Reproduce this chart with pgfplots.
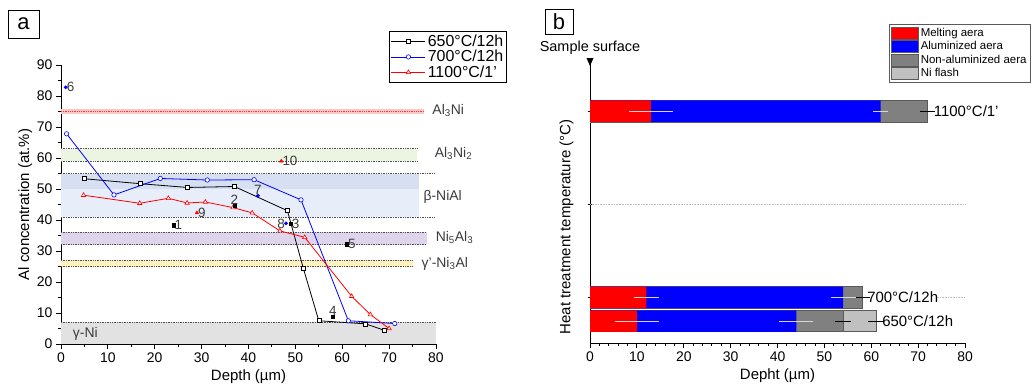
\documentclass[border=0pt]{standalone}
\usepackage{fontspec}
\setmainfont{Liberation Sans}
\usepackage{pgfplots}
\pgfplotsset{compat=1.18}
\definecolor{bandpink}{RGB}{246,200,200}
\definecolor{bandgreen}{RGB}{236,245,226}
\definecolor{bandblueA}{RGB}{214,224,242}
\definecolor{bandblueB}{RGB}{231,237,249}
\definecolor{bandpurple}{RGB}{222,213,237}
\definecolor{bandyellow}{RGB}{254,241,192}
\definecolor{bandgrey}{RGB}{226,226,226}
\definecolor{dotgrey}{RGB}{80,80,80}
\definecolor{labgrey}{RGB}{60,60,60}
\definecolor{nonal}{RGB}{128,128,128}
\definecolor{niflash}{RGB}{192,192,192}
\definecolor{barline}{RGB}{90,90,90}
\definecolor{errlight}{RGB}{215,215,215}
\begin{document}
\begin{tikzpicture}
\useasboundingbox (0,0) rectangle (1034bp,-391bp);
% panel labels
\node[draw, line width=0.9pt, minimum width=31bp, minimum height=28bp, inner sep=0pt, font=\fontsize{22}{22}\selectfont] at (23.5bp,-24bp) {a};
\node[draw, line width=0.9pt, minimum width=28bp, minimum height=25bp, inner sep=0pt, font=\fontsize{22}{22}\selectfont] at (559bp,-21.5bp) {b};
\node[font=\fontsize{14.5}{14.5}\selectfont] at (590bp,-48bp) {Sample surface};

% ---------------- panel a ----------------
\begin{axis}[
  at={(61bp,-344bp)}, anchor=south west, scale only axis,
  width=375bp, height=279bp,
  xmin=0, xmax=80, ymin=0, ymax=90,
  axis x line*=bottom, axis y line*=left,
  axis line style={line width=1pt},
  xtick={0,10,...,80}, ytick={0,10,...,90},
  minor xtick={5,15,...,75}, minor ytick={5,15,...,85},
  tick align=outside, major tick length=5bp, minor tick length=3bp,
  tick style={black, line width=0.9pt},
  /pgf/number format/assume math mode=true,
  tick label style={font=\fontsize{14}{14}\selectfont},
  label style={font=\fontsize{15}{15}\selectfont},
  xlabel={Depth (µm)}, ylabel={Al concentration (at.\%)},
  ylabel style={yshift=-2bp},
  clip=false,
  legend style={at={(0.875,1.122)}, anchor=north west, draw=black, line width=0.8pt,
    font=\fontsize{16}{17}\selectfont, inner sep=1.5pt, row sep=-1.5pt,
    legend cell align=left},
  legend image code/.code={\draw[mark repeat=2,mark phase=2,#1] plot coordinates {(0bp,0bp) (17bp,0bp) (34bp,0bp)};},
]
% bands
\addplot[fill=bandgrey, draw=none, forget plot] coordinates {(0,0) (80,0) (80,7) (0,7)} -- cycle;
\addplot[fill=bandyellow, draw=none, forget plot] coordinates {(0,25) (75,25) (75,27) (0,27)} -- cycle;
\addplot[fill=bandpurple, draw=none, forget plot] coordinates {(0,32) (78,32) (78,36) (0,36)} -- cycle;
\addplot[fill=bandblueB, draw=none, forget plot] coordinates {(0,41) (76.3,41) (76.3,50) (0,50)} -- cycle;
\addplot[fill=bandblueA, draw=none, forget plot] coordinates {(0,50) (76.3,50) (76.3,55) (0,55)} -- cycle;
\addplot[fill=bandgreen, draw=none, forget plot] coordinates {(0,59) (76,59) (76,63) (0,63)} -- cycle;
\addplot[fill=bandpink, draw=none, forget plot] coordinates {(0,74.3) (77.4,74.3) (77.4,75.7) (0,75.7)} -- cycle;
% dotted boundaries
\addplot[dotgrey, densely dotted, line width=0.7pt, forget plot] coordinates {(0,7) (80,7)};
\addplot[dotgrey, densely dotted, line width=0.7pt, forget plot] coordinates {(0,25) (75,25)};
\addplot[dotgrey, densely dotted, line width=0.7pt, forget plot] coordinates {(0,27) (75,27)};
\addplot[dotgrey, densely dotted, line width=0.7pt, forget plot] coordinates {(0,32) (78,32)};
\addplot[dotgrey, densely dotted, line width=0.7pt, forget plot] coordinates {(0,36) (78,36)};
\addplot[dotgrey, densely dotted, line width=0.7pt, forget plot] coordinates {(0,41) (79.7,41)};
\addplot[dotgrey, densely dotted, line width=0.7pt, forget plot] coordinates {(0,55) (79.7,55)};
\addplot[dotgrey, densely dotted, line width=0.7pt, forget plot] coordinates {(0,59) (76,59)};
\addplot[dotgrey, densely dotted, line width=0.7pt, forget plot] coordinates {(0,63) (76,63)};
\addplot[red!80, densely dotted, line width=0.8pt, forget plot] coordinates {(0,75) (77.4,75)};
% series
\addplot[black, line width=0.8pt, mark=square*, mark size=2bp, mark options={solid, fill=white, draw=black, line width=0.6pt}] coordinates {
 (5,53.3) (17,51.7) (27,50.5) (37,50.8) (48.3,43) (51.7,24.4) (55,7.5) (65,6.5) (69,4.4)};
\addlegendentry{650°C/12h}
\addplot[blue, line width=0.8pt, mark=*, mark size=2.2bp, mark options={solid, fill=white, draw=blue, line width=0.6pt}] coordinates {
 (1.2,67.8) (11.3,48.1) (21.2,53.4) (31.2,52.9) (41.2,53) (51.2,46.5) (61.3,7.5) (71.2,6.6)};
\addlegendentry{700°C/12h}
\addplot[red, line width=0.8pt, mark=triangle*, mark size=2.5bp, mark options={solid, fill=white, draw=red, line width=0.6pt}] coordinates {
 (4.8,48) (16.8,45.4) (22.9,47) (26.9,45.5) (30.8,45.8) (36.7,44) (40.8,42.3) (46.7,36.5) (52,34.4) (62,15.4) (66,9.5) (70,5)};
\addlegendentry{1100°C/1'}
% labelled spot analyses
\addplot[only marks, black, mark=square*, mark size=1.6bp, forget plot, point meta=explicit symbolic,
  nodes near coords, every node near coord/.append style={anchor=west, labgrey, inner sep=1pt, font=\fontsize{13.5}{13.5}\selectfont}]
  coordinates {(24,38.3) [1] (49,38.7) [3] (61,32.2) [5]};
\addplot[only marks, black, mark=square*, mark size=1.6bp, forget plot, point meta=explicit symbolic,
  nodes near coords, every node near coord/.append style={anchor=south, labgrey, inner sep=1pt, font=\fontsize{13.5}{13.5}\selectfont}]
  coordinates {(37,44.5) [2] (58,8.7) [4]};
\addplot[only marks, blue, mark=*, mark size=1.7bp, forget plot, point meta=explicit symbolic,
  nodes near coords, every node near coord/.append style={anchor=west, labgrey, inner sep=1pt, font=\fontsize{13.5}{13.5}\selectfont}]
  coordinates {(1,82.8) [6]};
\addplot[only marks, blue, mark=*, mark size=1.7bp, forget plot, point meta=explicit symbolic,
  nodes near coords, every node near coord/.append style={anchor=south, labgrey, inner sep=1pt, font=\fontsize{13.5}{13.5}\selectfont}]
  coordinates {(42,47.8) [7]};
\addplot[only marks, blue, mark=*, mark size=1.7bp, forget plot, point meta=explicit symbolic,
  nodes near coords, every node near coord/.append style={anchor=east, labgrey, inner sep=1pt, font=\fontsize{13.5}{13.5}\selectfont}]
  coordinates {(48,38.9) [8]};
\addplot[only marks, red, mark=triangle*, mark size=2.1bp, forget plot, point meta=explicit symbolic,
  nodes near coords, every node near coord/.append style={anchor=west, labgrey, inner sep=1pt, font=\fontsize{13.5}{13.5}\selectfont}]
  coordinates {(29,42.3) [9] (47,59) [10]};
% phase labels
\node[anchor=west, font=\fontsize{14}{14}\selectfont, labgrey] at (axis cs:78.5,75.2) {Al\textsubscript{3}Ni};
\node[anchor=west, font=\fontsize{14}{14}\selectfont, labgrey] at (axis cs:79.0,61.5) {Al\textsubscript{3}Ni\textsubscript{2}};
\node[anchor=west, font=\fontsize{14}{14}\selectfont, labgrey] at (axis cs:76.6,47.4) {β-NiAl};
\node[anchor=west, font=\fontsize{14}{14}\selectfont, labgrey] at (axis cs:79.2,34.3) {Ni\textsubscript{5}Al\textsubscript{3}};
\node[anchor=west, font=\fontsize{14}{14}\selectfont, labgrey] at (axis cs:76.2,26.0) {γ'-Ni\textsubscript{3}Al};
\node[anchor=west, font=\fontsize{14}{14}\selectfont, labgrey] at (axis cs:1.8,3.3) {γ-Ni};
\end{axis}

% ---------------- panel b ----------------
\begin{axis}[
  at={(590bp,-343bp)}, anchor=south west, scale only axis,
  width=375bp, height=283bp,
  xmin=0, xmax=80, ymin=0.511, ymax=3.548,
  axis x line*=bottom, axis y line*=left,
  axis line style={line width=1pt},
  xtick={0,10,...,80}, minor xtick={2,4,...,78},
  ytick={1,2,3}, yticklabels={},
  tick align=outside, major tick length=5bp, minor tick length=3bp,
  ytick style={xshift=2.5bp},
  tick style={black, line width=0.9pt},
  /pgf/number format/assume math mode=true,
  tick label style={font=\fontsize{14}{14}\selectfont},
  label style={font=\fontsize{15}{15}\selectfont},
  xlabel={Depht (µm)}, ylabel={Heat treatment temperature (°C)},
  ylabel style={at={(axis description cs:-0.035,0.41)}, anchor=south},
  clip=false,
  legend style={at={(0.797,1.127)}, anchor=north west, draw=barline, line width=0.6pt,
    font=\fontsize{11.5}{13}\selectfont, inner sep=2pt, row sep=-0.5pt,
    legend cell align=left},
  reverse legend,
  legend image code/.code={\draw[#1, draw=barline, line width=0.6pt] (0bp,-6bp) rectangle (27bp,6bp);},
]
\addplot[lightgray, densely dotted, line width=0.6pt, forget plot] coordinates {(0,2) (80,2)};
\addplot[lightgray, densely dotted, line width=0.6pt, forget plot] coordinates {(74,1) (80,1)};
% bars drawn longest first, overlaid
\addplot[xbar, bar width=21.5bp, bar shift=0pt, fill=niflash, draw=barline, line width=0.6pt,
  error bars/.cd, x dir=both, x explicit, error bar style={black, line width=0.6pt}, error mark options={mark size=3bp, black, line width=0.6pt}]
  coordinates {(61,0.747) +- (1,0)};
\addlegendentry{Ni flash}
\addplot[xbar, bar width=21.5bp, bar shift=0pt, fill=nonal, draw=barline, line width=0.6pt,
  error bars/.cd, x dir=both, x explicit, error bar style={black, line width=0.6pt}, error mark options={mark size=3bp, black, line width=0.6pt}]
  coordinates {(72,3) +- (1,0) (58,1) +- (1,0) (54,0.747) +- (1,0)};
\addlegendentry{Non-aluminized aera}
\addplot[xbar, bar width=21.5bp, bar shift=0pt, fill=blue, draw=none,
  error bars/.cd, x dir=both, x explicit, error bar style={errlight, line width=0.6pt}, error mark options={mark size=3bp, errlight, line width=0.6pt}]
  coordinates {(62,3) +- (1,0) (54,1) +- (2,0) (44,0.747) +- (3,0)};
\addlegendentry{Aluminized aera}
\addplot[xbar, bar width=21.5bp, bar shift=0pt, fill=red, draw=none,
  error bars/.cd, x dir=both, x explicit, error bar style={errlight, line width=0.6pt}, error mark options={mark size=3bp, errlight, line width=0.6pt}]
  coordinates {(13,3) +- (4,0) (12,1) +- (2,0) (10,0.747) +- (4,0)};
\addlegendentry{Melting aera}
\node[anchor=west, inner sep=1pt, font=\fontsize{15}{15}\selectfont] at (axis cs:73.1,3) {1100°C/1'};
\node[anchor=west, inner sep=1pt, font=\fontsize{15}{15}\selectfont] at (axis cs:58.9,1) {700°C/12h};
\node[anchor=west, inner sep=1pt, font=\fontsize{15}{15}\selectfont] at (axis cs:62.1,0.747) {650°C/12h};
\fill (rel axis cs:0,1) ++(-3.5bp,2bp) -- ++(7bp,0bp) -- ++(-3.5bp,-8bp) -- cycle;
\end{axis}
\end{tikzpicture}
\end{document}
